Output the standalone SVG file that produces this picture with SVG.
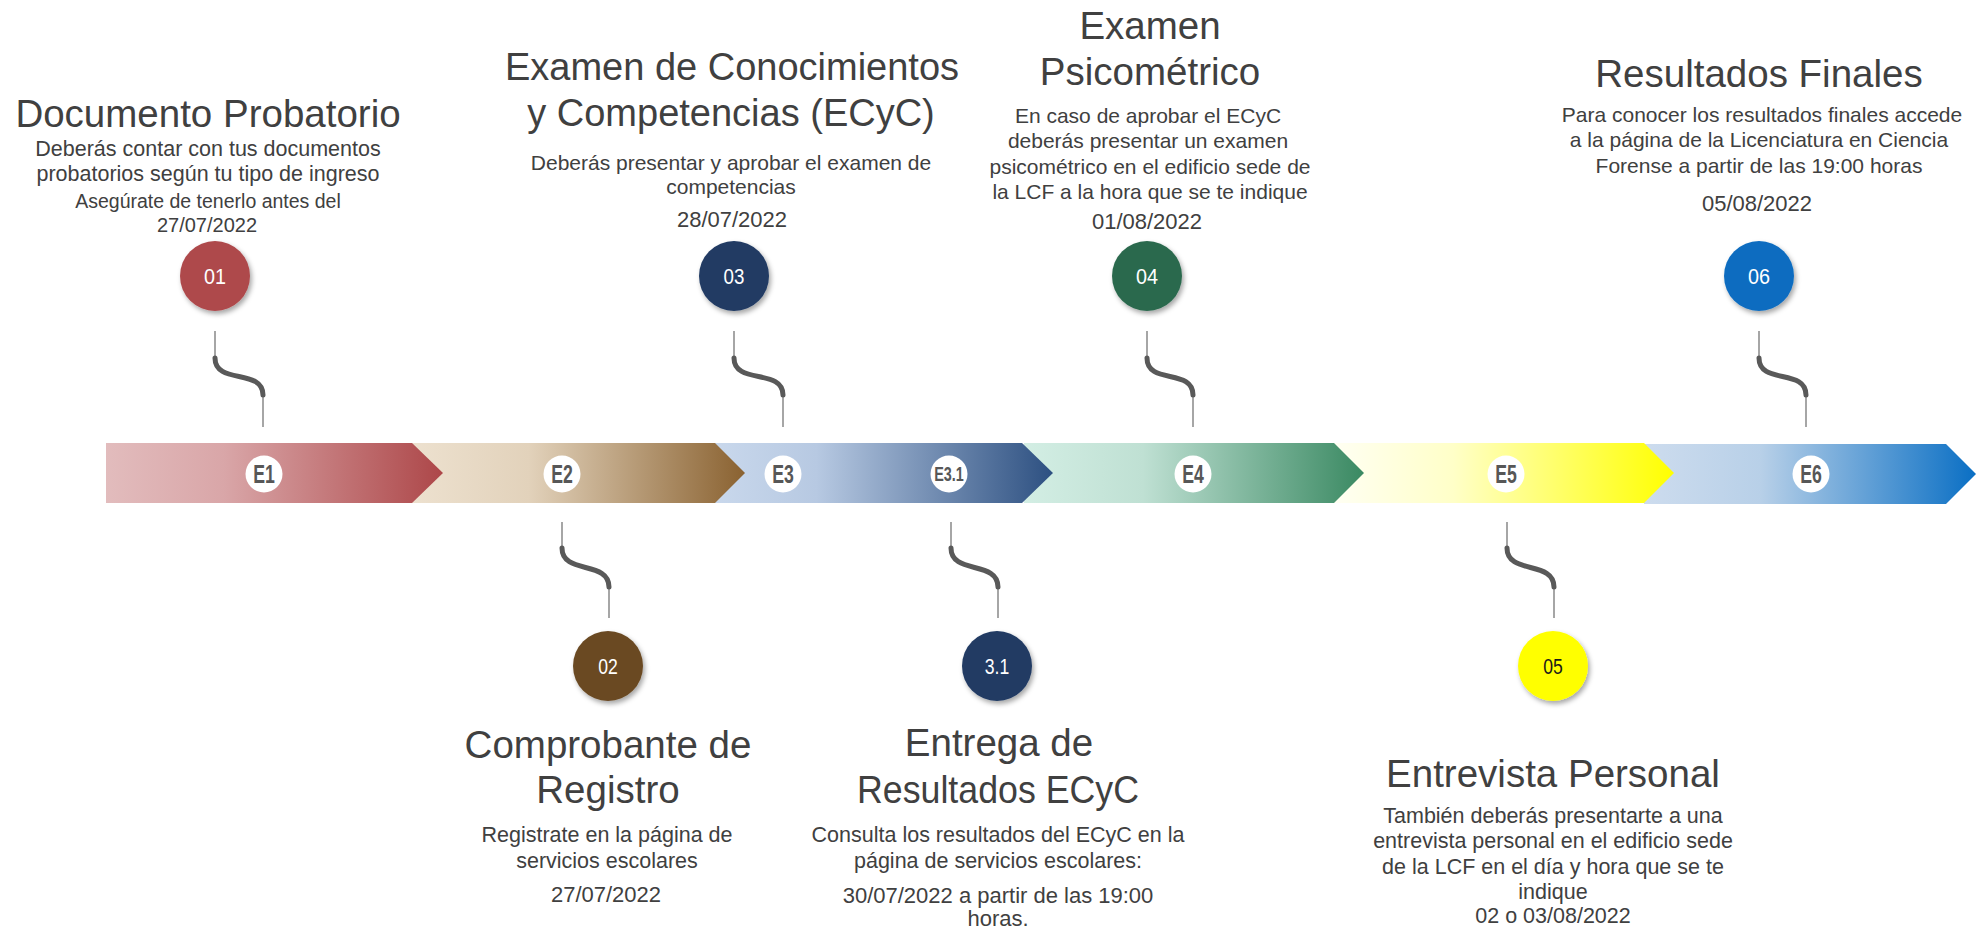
<svg xmlns="http://www.w3.org/2000/svg" width="1984" height="929" viewBox="0 0 1984 929">
<style>
.h{font-family:"Liberation Sans",Arial,sans-serif;font-size:38.5px;fill:#404040;text-anchor:middle}
.b{font-family:"Liberation Sans",Arial,sans-serif;font-size:21px;fill:#404040;text-anchor:middle}
.d{font-family:"Liberation Sans",Arial,sans-serif;font-size:22px;fill:#404040;text-anchor:middle}
.n{font-family:"Liberation Sans",Arial,sans-serif;font-size:22px;fill:#ffffff;text-anchor:middle}
.e{font-family:"Liberation Sans",Arial,sans-serif;font-size:26px;font-weight:bold;fill:#575757;text-anchor:middle}
.thin{fill:none;stroke:#a6a6a6;stroke-width:2}
.curve{fill:none;stroke:#595959;stroke-width:5;stroke-linecap:round}
</style>
<defs>
<filter id="sh" x="-30%" y="-30%" width="170%" height="170%">
<feDropShadow dx="2" dy="3" stdDeviation="2.5" flood-color="#000" flood-opacity="0.35"/>
</filter>
<linearGradient id="g1" x1="0" y1="0" x2="1" y2="0"><stop offset="0" stop-color="#e2bcbd"/><stop offset="0.35" stop-color="#d9a6a8"/><stop offset="1" stop-color="#ad4749"/></linearGradient>
<linearGradient id="g2" x1="0" y1="0" x2="1" y2="0"><stop offset="0" stop-color="#ede1cf"/><stop offset="0.35" stop-color="#e2d2bb"/><stop offset="1" stop-color="#8a6231"/></linearGradient>
<linearGradient id="g3" x1="0" y1="0" x2="1" y2="0"><stop offset="0" stop-color="#c9d8ec"/><stop offset="0.3" stop-color="#b7c9e2"/><stop offset="1" stop-color="#2d5081"/></linearGradient>
<linearGradient id="g4" x1="0" y1="0" x2="1" y2="0"><stop offset="0" stop-color="#d3eee4"/><stop offset="0.35" stop-color="#bfe0d3"/><stop offset="1" stop-color="#3a8962"/></linearGradient>
<linearGradient id="g5" x1="0" y1="0" x2="1" y2="0"><stop offset="0" stop-color="#fffff3"/><stop offset="0.35" stop-color="#ffffc8"/><stop offset="1" stop-color="#ffff00"/></linearGradient>
<linearGradient id="g6" x1="0" y1="0" x2="1" y2="0"><stop offset="0" stop-color="#cddcee"/><stop offset="0.35" stop-color="#b8d0e8"/><stop offset="1" stop-color="#0a6fc4"/></linearGradient>
</defs>
<rect width="1984" height="929" fill="#ffffff"/>

<g id="timeline-bar">
<polygon points="1644,444 1946,444 1976,474 1946,504 1644,504" fill="url(#g6)"/>
<polygon points="1334,443 1644,443 1674,473 1644,503 1334,503" fill="url(#g5)"/>
<polygon points="1024,443 1334,443 1364,473 1334,503 1024,503" fill="url(#g4)"/>
<polygon points="715,443 1022,443 1053,473 1022,503 715,503" fill="url(#g3)"/>
<polygon points="412,443 715,443 745,473 715,503 412,503" fill="url(#g2)"/>
<polygon points="106,443 412,443 443,473 412,503 106,503" fill="url(#g1)"/>
<circle cx="264" cy="474" r="18.5" fill="#fff"/><text class="e" transform="translate(264,483) scale(0.68,1)">E1</text>
<circle cx="562" cy="474" r="18.5" fill="#fff"/><text class="e" transform="translate(562,483) scale(0.68,1)">E2</text>
<circle cx="783" cy="474" r="18.5" fill="#fff"/><text class="e" transform="translate(783,483) scale(0.68,1)">E3</text>
<circle cx="949" cy="474" r="18.5" fill="#fff"/><text class="e" transform="translate(949,481) scale(0.72,1)" style="font-size:20px">E3.1</text>
<circle cx="1193" cy="474" r="18.5" fill="#fff"/><text class="e" transform="translate(1193,483) scale(0.68,1)">E4</text>
<circle cx="1506" cy="474" r="18.5" fill="#fff"/><text class="e" transform="translate(1506,483) scale(0.68,1)">E5</text>
<circle cx="1811" cy="474" r="18.5" fill="#fff"/><text class="e" transform="translate(1811,483) scale(0.68,1)">E6</text>
</g>

<g id="connectors">
<path class="thin" d="M215,331 V358 M263,395 V427"/>
<path class="curve" d="M215,358 C215,385 263,368 263,395"/>
<path class="thin" d="M734,331 V358 M783,395 V427"/>
<path class="curve" d="M734,358 C734,385 783,368 783,395"/>
<path class="thin" d="M1147,331 V358 M1193,395 V427"/>
<path class="curve" d="M1147,358 C1147,385 1193,368 1193,395"/>
<path class="thin" d="M1759,331 V358 M1806,395 V427"/>
<path class="curve" d="M1759,358 C1759,385 1806,368 1806,395"/>
<path class="thin" d="M562,522 V548 M609,587 V618"/>
<path class="curve" d="M562,548 C562,575 609,560 609,587"/>
<path class="thin" d="M951,522 V548 M998,587 V618"/>
<path class="curve" d="M951,548 C951,575 998,560 998,587"/>
<path class="thin" d="M1507,522 V548 M1554,587 V618"/>
<path class="curve" d="M1507,548 C1507,575 1554,560 1554,587"/>
</g>

<g id="node-01">
<text class="h" x="208" y="127">Documento Probatorio</text>
<text class="b" x="208" y="156" style="font-size:21.5px">Deberás contar con tus documentos</text>
<text class="b" x="208" y="181" style="font-size:21.5px">probatorios según tu tipo de ingreso</text>
<text class="b" x="208" y="208" style="font-size:19.5px">Asegúrate de tenerlo antes del</text>
<text class="b" x="207" y="232" style="font-size:20px">27/07/2022</text>
<circle cx="215" cy="276" r="35" fill="#ae4a4c" filter="url(#sh)"/>
<text class="n" transform="translate(215,284) scale(0.9,1)">01</text>
</g>

<g id="node-03">
<text class="h" x="732" y="80" style="font-size:38px">Examen de Conocimientos</text>
<text class="h" x="731" y="126" style="font-size:38px">y Competencias (ECyC)</text>
<text class="b" x="731" y="170">Deberás presentar y aprobar el examen de</text>
<text class="b" x="731" y="194">competencias</text>
<text class="d" x="732" y="227">28/07/2022</text>
<circle cx="734" cy="276" r="35" fill="#203a63" filter="url(#sh)"/>
<text class="n" transform="translate(734,284) scale(0.85,1)">03</text>
</g>

<g id="node-04">
<text class="h" x="1150" y="39">Examen</text>
<text class="h" x="1150" y="85">Psicométrico</text>
<text class="b" x="1148" y="123">En caso de aprobar el ECyC</text>
<text class="b" x="1148" y="148">deberás presentar un examen</text>
<text class="b" x="1150" y="174">psicométrico en el edificio sede de</text>
<text class="b" x="1150" y="199">la LCF a la hora que se te indique</text>
<text class="d" x="1147" y="229">01/08/2022</text>
<circle cx="1147" cy="276" r="35" fill="#2c694e" filter="url(#sh)"/>
<text class="n" transform="translate(1147,284) scale(0.9,1)">04</text>
</g>

<g id="node-06">
<text class="h" x="1759" y="87">Resultados Finales</text>
<text class="b" x="1762" y="122">Para conocer los resultados finales accede</text>
<text class="b" x="1759" y="147">a la página de la Licenciatura en Ciencia</text>
<text class="b" x="1759" y="173">Forense a partir de las 19:00 horas</text>
<text class="d" x="1757" y="211">05/08/2022</text>
<circle cx="1759" cy="276" r="35" fill="#0b6cc0" filter="url(#sh)"/>
<text class="n" transform="translate(1759,284) scale(0.9,1)">06</text>
</g>

<g id="node-02">
<circle cx="608" cy="666" r="35" fill="#6a4a23" filter="url(#sh)"/>
<text class="n" transform="translate(608,674) scale(0.8,1)">02</text>
<text class="h" x="608" y="758">Comprobante de</text>
<text class="h" x="608" y="803">Registro</text>
<text class="b" x="607" y="842" style="font-size:21.5px">Registrate en la página de</text>
<text class="b" x="607" y="868" style="font-size:21.5px">servicios escolares</text>
<text class="d" x="606" y="902">27/07/2022</text>
</g>

<g id="node-3-1">
<circle cx="997" cy="666" r="35" fill="#203a63" filter="url(#sh)"/>
<text class="n" transform="translate(997,674) scale(0.8,1)">3.1</text>
<text class="h" x="999" y="756">Entrega de</text>
<text class="h" x="998" y="803" textLength="282" lengthAdjust="spacingAndGlyphs">Resultados ECyC</text>
<text class="b" x="998" y="842" style="font-size:21.5px">Consulta los resultados del ECyC en la</text>
<text class="b" x="998" y="868" style="font-size:21.5px">página de servicios escolares:</text>
<text class="d" x="998" y="903">30/07/2022 a partir de las 19:00</text>
<text class="d" x="998" y="926">horas.</text>
</g>

<g id="node-05">
<circle cx="1553" cy="666" r="35" fill="#ffff00" filter="url(#sh)"/>
<text class="n" transform="translate(1553,674) scale(0.8,1)" style="fill:#1a1a1a">05</text>
<text class="h" x="1553" y="787">Entrevista Personal</text>
<text class="b" x="1553" y="823" style="font-size:21.5px">También deberás presentarte a una</text>
<text class="b" x="1553" y="848" style="font-size:21.5px">entrevista personal en el edificio sede</text>
<text class="b" x="1553" y="874" style="font-size:21.5px">de la LCF en el día y hora que se te</text>
<text class="b" x="1553" y="899" style="font-size:21.5px">indique</text>
<text class="d" x="1553" y="923" style="font-size:21.5px">02 o 03/08/2022</text>
</g>
</svg>
